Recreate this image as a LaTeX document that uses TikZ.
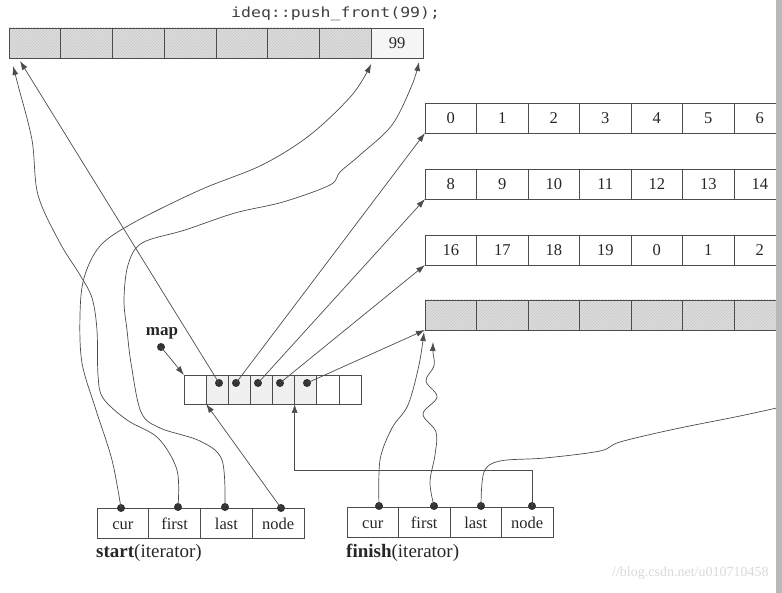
\documentclass[tikz,border=0pt]{standalone}
\usepackage{fontspec}
\setmainfont{Liberation Serif}
\newfontfamily\codefont[FakeStretch=1.18]{DejaVu Sans Mono}
\usetikzlibrary{arrows.meta,patterns,calc}
\begin{document}
\begin{tikzpicture}[x=1pt,y=-1pt,
  cellbase/.style={draw=black!70, line width=0.7pt, inner sep=0pt, outer sep=0pt,
    font=\fontsize{16.5}{16.5}\selectfont, text=black!85, text height=13pt, text depth=1pt},
  tcell/.style={cellbase, minimum width=51.75pt, minimum height=30pt},
  rcell/.style={cellbase, minimum width=51.5pt, minimum height=30pt},
  mcell/.style={cellbase, minimum width=22.125pt, minimum height=29pt},
  icell/.style={cellbase, minimum width=51.6pt, minimum height=30pt},
  hatch/.style={preaction={fill=gray!25}, pattern=north east lines, pattern color=gray!45},
  shade/.style={fill=gray!12},
  dot/.style={circle, fill=black!80, inner sep=0pt, minimum size=8pt},
  conn/.style={draw=black!70, line width=0.7pt},
  arr/.style={conn, -{Latex[length=9pt,width=6pt]}},
  lbl/.style={font=\fontsize{19}{19}\selectfont, anchor=west, inner sep=0pt, text=black!85}
]
\useasboundingbox (0,0) rectangle (782,593);
\clip (0,0) rectangle (782,593);

% title
\node[anchor=west, inner sep=0pt, text=black!75, font=\codefont\fontsize{14}{14}\selectfont] (title) at (231,14) {ideq::push\_front(99);};

% top buffer
\foreach \i in {1,...,7} \node[tcell,hatch] (t\i) at ({9+51.75*(\i-0.5)},43) {};
\node[tcell, fill=gray!8] (t8) at ({9+51.75*7.5},43) {99};

% right buffers
\foreach \v [count=\i] in {0,...,6} \node[rcell] (a\i) at ({425+51.5*(\i-0.5)},118) {\v};
\foreach \v [count=\i] in {8,...,14} \node[rcell] (b\i) at ({425+51.5*(\i-0.5)},184) {\v};
\foreach \v [count=\i] in {16,17,18,19,0,1,2} \node[rcell] (c\i) at ({425+51.5*(\i-0.5)},250) {\v};
\foreach \i in {1,...,7} \node[rcell,hatch] (h\i) at ({425+51.5*(\i-0.5)},315) {};

% map
\foreach \i in {1,7,8} \node[mcell] (m\i) at ({184+22.125*(\i-0.5)},389.5) {};
\foreach \i in {2,...,6} \node[mcell,shade] (m\i) at ({184+22.125*(\i-0.5)},389.5) {};
\node[font=\bfseries\fontsize{17}{17}\selectfont, inner sep=0pt, text=black!85] (maplbl) at (162,333) {map};
\node[dot] (mapdot) at (161,347) {};
\node[dot] (d1) at (219,383) {};
\node[dot] (d2) at (236,383) {};
\node[dot] (d3) at (258,383) {};
\node[dot] (d4) at (280,383) {};
\node[dot] (d5) at (307,383) {};

% iterators
\foreach \t [count=\i] in {cur,first,last,node} \node[icell] (s\i) at ({97+51.75*(\i-0.5)},523) {\t};
\foreach \t [count=\i] in {cur,first,last,node} \node[icell] (f\i) at ({347+51.5*(\i-0.5)},522) {\t};
\node[dot] (sd1) at (121,508) {};
\node[dot] (sd2) at (178,507) {};
\node[dot] (sd3) at (225,507) {};
\node[dot] (sd4) at (281,508) {};
\node[dot] (fd1) at (379,506) {};
\node[dot] (fd2) at (434,506) {};
\node[dot] (fd3) at (481,506) {};
\node[dot] (fd4) at (532,506) {};
\node[lbl] (startlbl) at (96,553) {\textbf{start}(iterator)};
\node[lbl] (finishlbl) at (346,553) {\textbf{finish}(iterator)};

% tip coordinates
\coordinate (t1tipA) at ($(t1.south west)+(4,8)$);
\coordinate (t1tipB) at ($(t1.south west)+(11,3)$);
\coordinate (t8tip) at ($(t8.south west)+(0,6)$);
\coordinate (t8etip) at ($(t8.south east)+(-4,4)$);
\coordinate (h1tip) at ($(h1.south west)+(-1,2)$);
\coordinate (h1tipB) at ($(h1.south west)+(8,12)$);
\coordinate (offright) at (790,405);

% map pointers
\draw[arr] (mapdot.center) -- (m1.north west);
\draw[arr] (d1.center) -- (t1tipB);
\draw[arr] (d2.center) -- (a1.south west);
\draw[arr] (d3.center) -- (b1.south west);
\draw[arr] (d4.center) -- (c1.south west);
\draw[arr] (d5.center) -- (h1.south west);

% start iterator
\draw[arr] plot[smooth,tension=0.55] coordinates {(sd1.center) (112,460) (96,410) (82,363) (80,315) (84,278) (100,246) (133,223) (200,190) (262,165) (310,135) (352,95) (t8tip)};
\draw[arr] plot[smooth,tension=0.55] coordinates {(sd2.center) (177,470) (158,438) (127,420) (103,398) (98,375) (97,330) (92,298) (80,275) (60,243) (38,195) (32,140) (18,85) (t1tipA)};
\draw[arr] plot[smooth,tension=0.55] coordinates {(sd3.center) (222,460) (200,441) (160,428) (141,412) (131,363) (127,330) (124,300) (128,265) (142,243) (185,230) (235,213) (283,202) (330,185) (340,172) (360,155) (392,125) (412,85) (t8etip)};
\draw[arr] (sd4.center) -- (m2.south west);

% finish iterator
\draw[arr] plot[smooth,tension=0.55] coordinates {(fd1.center) (380,460) (392,428) (408,405) (419,365) (h1tip)};
\draw[arr] plot[smooth,tension=0.6] coordinates {(fd2.center) (430,482) (435,455) (436,432) (423,414) (437,397) (426,381) (434,366) (433,352) (h1tipB)};
\draw[conn] plot[smooth,tension=0.55] coordinates {(fd3.center) (484,472) (500,461) (545,458) (600,451) (620,442) (675,429) (740,416) (offright)};
\draw[arr] (fd4.center) -- ++(0,-36) -| (m6.south west);

% watermark and frame edge
\node[anchor=west, inner sep=0pt, text=gray!30, font=\fontsize{14}{14}\selectfont] (wm) at (612,573) {//blog.csdn.net/u010710458};
\fill[gray!55] (776,0) rectangle (782,593);
\end{tikzpicture}
\end{document}
